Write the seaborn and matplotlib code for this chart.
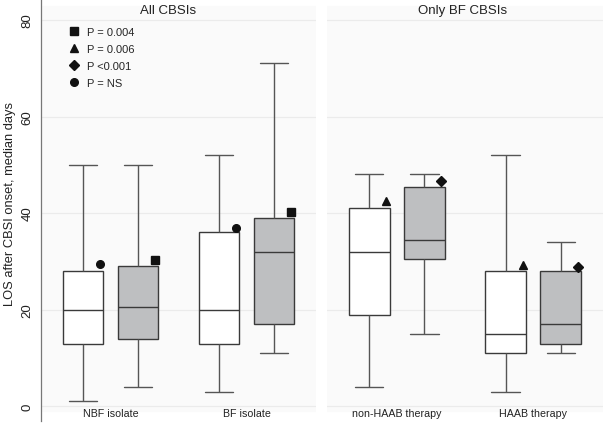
import numpy as np
import pandas as pd
import matplotlib.pyplot as plt
import seaborn as sns
from matplotlib.lines import Line2D

# five-number summaries (min, q1, median, q3, max)
left_groups = ["NBF isolate", "BF isolate"]
right_groups = ["non-HAAB therapy", "HAAB therapy"]
arms = ["a", "b"]

left_white = [[1, 13, 20, 28, 50], [3, 13, 20, 36, 52]]
left_grey = [[4, 14, 20.5, 29, 50], [11, 17, 32, 39, 71]]
right_white = [[4, 19, 32, 41, 48], [3, 11, 15, 28, 52]]
right_grey = [[15, 30.5, 34.5, 45.5, 48], [11, 13, 17, 28, 34]]

# significance markers: one per box (white, grey) per group
left_marks = [["o", "s"], ["o", "s"]]
left_mark_y = [[29.4, 30.2], [36.9, 40.2]]
right_marks = [["^", "D"], ["^", "D"]]
right_mark_y = [[42.6, 46.7], [29.3, 28.8]]

legend_marks = ["s", "^", "D", "o"]
legend_labels = ["P = 0.004", "P = 0.006", "P <0.001", "P = NS"]

panel_titles = ["All CBSIs", "Only BF CBSIs"]


def to_long(groups, white, grey):
    rows = []
    for g, w, k in zip(groups, white, grey):
        for v in w:
            rows.append((g, "a", v))
        for v in k:
            rows.append((g, "b", v))
    return pd.DataFrame(rows, columns=["group", "arm", "los"])


sns.set_style("white")
plt.rcParams["font.family"] = ["Liberation Sans", "DejaVu Sans"]

fig = plt.figure(figsize=(6.05, 4.27), dpi=100)
W, H = 605, 427
ax1 = fig.add_axes([41 / W, 5 / H, 275 / W, 422 / H])
ax2 = fig.add_axes([327 / W, 5 / H, 276 / W, 422 / H])

ylo, yhi = -3.04, 84.33
edge = "#3a3a3a"
whisk = "#555555"

panels = [
    (ax1, left_groups, left_white, left_grey, left_marks, left_mark_y),
    (ax2, right_groups, right_white, right_grey, right_marks, right_mark_y),
]

for i, (ax, groups, white, grey, marks, mark_y) in enumerate(panels):
    ax.set_facecolor("white")
    ax.axhspan(-1.0, 82.9, color="#fafafa", zorder=0)
    for gy in [0, 20, 40, 60, 80]:
        ax.axhline(gy, color="#ebebeb", lw=0.9, zorder=0.5)

    df = to_long(groups, white, grey)
    sns.boxplot(data=df, x="group", y="los", hue="arm", hue_order=arms,
                palette=["white", "#bebfc1"], whis=(0, 100), width=0.81,
                gap=0.26, linecolor=edge, linewidth=1.0, legend=False,
                capwidths=0.21, whiskerprops={"color": whisk},
                capprops={"color": whisk}, ax=ax, zorder=2)

    for gi in range(len(groups)):
        for hi, off in enumerate([-0.2025, 0.2025]):
            ax.plot(gi + off + 0.125, mark_y[gi][hi], marker=marks[gi][hi],
                    ms=5.5, color="#111111", ls="none", zorder=3)

    ax.set_xlim(-0.511, 1.511)
    ax.set_ylim(ylo, yhi)
    ax.set_xlabel("")
    ax.set_ylabel("")
    ax.tick_params(axis="x", length=0, pad=-9, labelsize=7.7, colors="#222222")
    for s in ["top", "right", "bottom"]:
        ax.spines[s].set_visible(False)

    tx = 0.423 if i == 0 else 0.483
    ax.text(tx, 82.0, panel_titles[i], ha="center", va="center",
            fontsize=9.5, color="#222222")

ax1.spines["left"].set_color("#777777")
ax1.spines["left"].set_linewidth(0.9)
ax1.set_yticks([0, 20, 40, 60, 80])
ax1.tick_params(axis="y", length=4, width=0.8, color="#777777", pad=1.5,
                labelsize=9.5, labelcolor="#222222")
for lab in ax1.get_yticklabels():
    lab.set_rotation(90)
    lab.set_va("center")
ax1.set_ylabel("LOS after CBSI onset, median days", fontsize=9.3,
               color="#222222")
ax1.yaxis.set_label_coords(-25 / 275, (422 - 204) / 422)

ax2.spines["left"].set_visible(False)
ax2.set_yticks([])

handles = [Line2D([], [], marker=m, ms=5.5, color="#111111", ls="none")
           for m in legend_marks]
ax1.legend(handles, legend_labels, loc="upper left",
           bbox_to_anchor=(68 / W, 1 - 28 / H), bbox_transform=fig.transFigure,
           frameon=False, fontsize=8, handlelength=1.0, handletextpad=0.7,
           labelspacing=0.62, borderpad=0, borderaxespad=0)

fig.savefig("out.png", dpi=100)
